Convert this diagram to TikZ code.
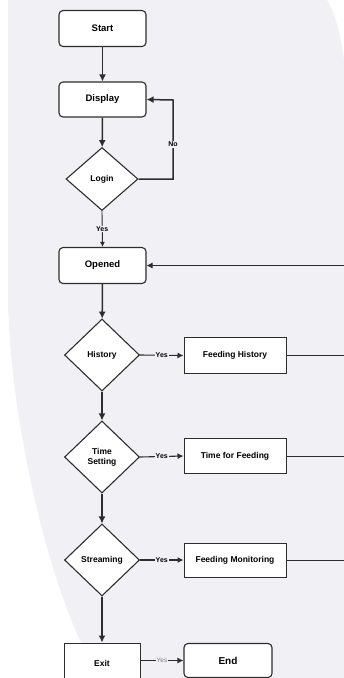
\documentclass[tikz,border=0pt]{standalone}
\usepackage{fontspec}
\setmainfont{Liberation Sans}
\usetikzlibrary{arrows.meta}
\usetikzlibrary{shapes.geometric}
\definecolor{pagegray}{RGB}{241,241,245}
\definecolor{ink}{RGB}{45,45,45}

\begin{document}
\begin{tikzpicture}[x=1pt,y=-1pt,
	term/.style = {draw=ink, fill=white, rounded corners=4pt, line width=1.1pt, minimum width=87pt, minimum height=36pt, font=\fontsize{9.5}{11}\selectfont\bfseries},
	proc/.style = {draw=ink, fill=white, line width=1pt, minimum width=102pt, minimum height=36pt, font=\fontsize{8.5}{10}\selectfont\bfseries},
	cond/.style = {draw=ink, fill=white, diamond, aspect=1, inner sep=0pt, line width=1.1pt, minimum width=75pt, minimum height=72pt, align=center, font=\fontsize{8.5}{10}\selectfont\bfseries},
	tag/.style = {fill=pagegray, inner sep=1pt, font=\fontsize{7}{8}\selectfont\bfseries},
	flow/.style = {draw=ink, line width=1.5pt, -{Latex[length=7pt,width=7pt]}},
	back/.style = {draw=ink, line width=0.9pt}]
	\useasboundingbox (0,0) rectangle (344,678);
	\fill[white] (0,0) rectangle (344,678);
	\fill[pagegray] (8,0) -- (8,300) .. controls (10,420) and (50,600) .. (100,678) -- (344,678) -- (344,60) .. controls (340,30) and (334,12) .. (327,0) -- cycle;
	
	\node[term] (start) at (102.5,28.5) {Start};
	\node[term, minimum height=35pt] (display) at (102.5,99.5) {Display};
	\node[cond, minimum width=72pt, minimum height=63pt] (login) at (102,179) {Login};
	\node[term] (opened) at (102.5,265.5) {Opened};
	\node[cond] (history) at (102,355) {History};
	\node[proc] (feedhist) at (235,355.5) {Feeding History};
	\node[cond] (timeset) at (102,457) {Time\\Setting};
	\node[proc, minimum height=35pt] (feedtime) at (235,456) {Time for Feeding};
	\node[cond] (stream) at (102,560) {Streaming};
	\node[proc, minimum height=34pt] (feedmon) at (235,560) {Feeding Monitoring};
	\node[proc, minimum width=76pt, minimum height=40pt] (exit) at (102,663) {Exit};
	\node[term, minimum width=88pt, minimum height=34pt, font=\fontsize{10}{12}\selectfont\bfseries] (end) at (228,660.5) {End};
	
	\coordinate (noturn) at (173,100);
	\coordinate (rim) at (344,0);
	
	\draw[flow] (start) -- (display);
	\draw[flow] (display) -- (login);
	\draw[flow] (login.east) -| node[tag, pos=0.72] {No} (noturn) -- (display.east);
	\draw[back, -{Latex[length=5pt,width=5pt]}] (login.south) -- node[tag] {Yes} (opened.north);
	\draw[flow] (opened) -- (history);
	\draw[flow] (history) -- (timeset);
	\draw[flow] (timeset) -- (stream);
	\draw[flow] (stream) -- (exit);
	
	\draw[back, line width=1.1pt, -{Latex[length=6pt,width=6pt]}] (history.east) -- node[tag] {Yes} (feedhist.west);
	\draw[back, line width=1.1pt, -{Latex[length=6pt,width=6pt]}] (timeset.east) -- node[tag] {Yes} (feedtime.west);
	\draw[back, line width=1.1pt, -{Latex[length=6pt,width=6pt]}] (stream.east) -- node[tag] {Yes} (feedmon.west);
	\draw[back, line width=1.1pt, -{Latex[length=6pt,width=6pt]}] (exit.east |- end.west) -- node[tag, text=gray, font=\fontsize{6.5}{8}\selectfont] {Yes} (end.west);
	
	\draw[back, -{Latex[length=6pt,width=6pt]}] (opened.east -| rim) -- (opened.east);
	\draw[back] (feedhist.east) -- (feedhist.east -| rim);
	\draw[back] (feedtime.east) -- (feedtime.east -| rim);
	\draw[back] (feedmon.east) -- (feedmon.east -| rim);
\end{tikzpicture}
\end{document}
